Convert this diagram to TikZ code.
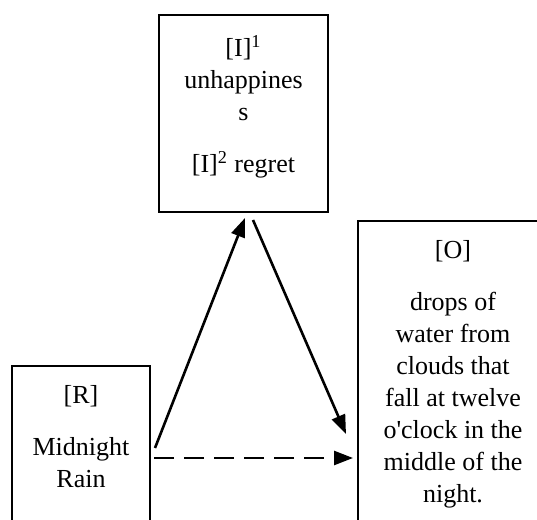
\documentclass[tikz,border=0pt]{standalone}
\usepackage{fontspec}
\setmainfont{Liberation Serif}
\usepackage{tikz}
\usetikzlibrary{arrows.meta, positioning, calc}

\begin{document}
\begin{tikzpicture}[x=1pt, y=1pt, >={Triangle[length=9.5pt, width=7pt]}, line cap=butt, line join=miter]
    % Styles
    \tikzset{
        frame/.style={draw, line width=1pt, inner sep=0pt, anchor=north west},
        boxtext/.style={anchor=north, inner sep=0pt, align=center, font=\fontsize{13}{16}\selectfont},
        link/.style={line width=1.3pt, ->},
        guess/.style={line width=1.3pt, ->, dash pattern=on 10pt off 5pt}
    }

    % Page size (origin at lower left)
    \useasboundingbox (0, 0) rectangle (268.5, 260);
    \clip (0, 0) rectangle (268.5, 260);

    % --- Interpretant box ---
    \node[frame, minimum width=84.5pt, minimum height=98.5pt] (interp) at (79, 253) {};
    \node[boxtext, below=10.5pt of interp.north] (interp_text)
        {[I]\textsuperscript{1}\\unhappines\\s\\[10pt][I]\textsuperscript{2} regret};

    % --- Representamen box ---
    \node[frame, minimum width=69pt, minimum height=90pt] (repr) at (5.5, 77.5) {};
    \node[boxtext, below=10pt of repr.north] (repr_text)
        {[R]\\[10pt]Midnight\\Rain};

    % --- Object box ---
    \node[frame, minimum width=95pt, minimum height=165pt] (obj) at (178.5, 150) {};
    \node[boxtext, below=10pt of obj.north] (obj_text)
        {[O]\\[10pt]drops of\\water from\\clouds that\\fall at twelve\\o\textquotesingle clock in the\\middle of the\\night.};

    % --- Connectors ---
    \draw[link] ($(repr.north east) + (2, -41.5)$) -- ($(interp.south) + (0.75, -2.5)$);
    \draw[link] ($(interp.south) + (4.75, -3.5)$) -- ($(obj.north west) + (-5.5, -107)$);
    \draw[guess] ($(repr.north east) + (1.5, -46.5)$) -- ($(obj.north west) + (-2, -119)$);

\end{tikzpicture}
\end{document}
